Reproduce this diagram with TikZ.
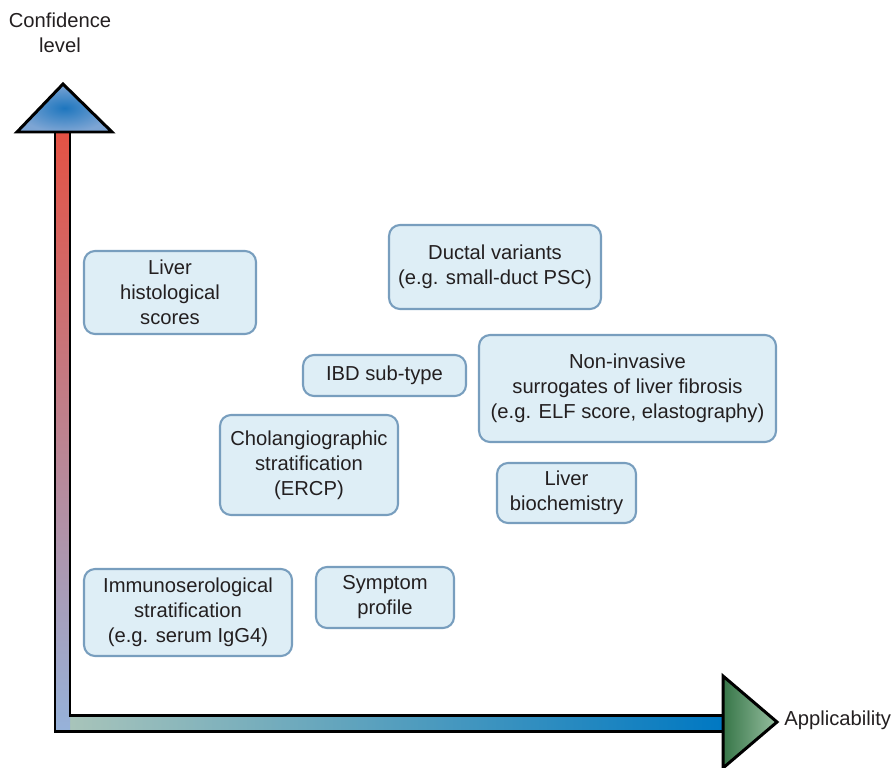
\documentclass[tikz,border=0pt]{standalone}
\usepackage{fontspec}
\setmainfont{Liberation Sans}
\usetikzlibrary{calc,positioning}
\definecolor{boxfill}{RGB}{222,238,246}
\definecolor{boxline}{RGB}{120,158,190}
\definecolor{axhigh}{RGB}{228,82,68}
\definecolor{axmid}{RGB}{182,138,160}
\definecolor{axlow}{RGB}{150,178,218}
\definecolor{axleft}{RGB}{168,196,186}
\definecolor{axright}{RGB}{0,120,194}
\definecolor{tipin}{RGB}{30,118,190}
\definecolor{tipout}{RGB}{125,165,212}
\definecolor{tipdark}{RGB}{55,118,72}
\definecolor{tiplight}{RGB}{150,190,160}
\definecolor{ink}{RGB}{35,31,32}

\begin{document}
\begin{tikzpicture}[x=0.02cm,y=-0.02cm,
  lbl/.style={text=ink,font=\fontsize{11.5}{14.2}\selectfont},
  box/.style={lbl,draw=boxline,fill=boxfill,line width=1.2pt,rounded corners=0.22cm,
    align=center,inner sep=2pt},
  axis/.style={line width=1.7pt,black}]
  \useasboundingbox (0,0) rectangle (895,767);
  \coordinate(O) at (55,731);
  \coordinate(Ytop) at (55,132);
  \coordinate(Xend) at (723,731);
  % axes
  \shade[left color=axleft,right color=axright](70,715) rectangle (Xend);
  \shade[top color=axhigh,middle color=axmid,bottom color=axlow](Ytop) rectangle (70,731);
  \draw[axis](Ytop)--(O)--(Xend);
  \draw[axis](70,132)--(70,715)--(723,715);
  \shadedraw[axis,line join=miter,inner color=tipin,outer color=tipout]
    (17,132)--(63,84)--(112,132)--cycle;
  \shadedraw[axis,line join=miter,left color=tipdark,right color=tiplight]
    (723,676)--(777,722)--(723,768)--cycle;
  \node[lbl,align=center](ylab) at (60,33){Confidence\\level};
  \node[lbl,anchor=west,inner sep=0pt](xlab) at (784,720){Applicability};
  % boxes
  \node[box,minimum width=3.44cm,minimum height=1.66cm](histo) at (170,292.5){Liver\\histological\\scores};
  \node[box,minimum width=4.24cm,minimum height=1.68cm](ductal) at (495,267){Ductal variants\\(e.g. small-duct PSC)};
  \node[box,minimum width=3.26cm,minimum height=0.82cm](ibd) at (384.5,375.5){IBD sub-type};
  \node[box,minimum width=5.94cm,minimum height=2.14cm](noninv) at (627.5,388.5){Non-invasive\\surrogates of liver fibrosis\\(e.g. ELF score, elastography)};
  \node[box,minimum width=3.56cm,minimum height=2.0cm](cholang) at (309,465){Cholangiographic\\stratification\\(ERCP)};
  \node[box,minimum width=2.78cm,minimum height=1.2cm](biochem) at (566.5,493){Liver\\biochemistry};
  \node[box,minimum width=2.76cm,minimum height=1.22cm](symptom) at (385,597.5){Symptom\\profile};
  \node[box,minimum width=4.16cm,minimum height=1.74cm](immuno) at (188,612.5){Immunoserological\\stratification\\(e.g. serum IgG4)};
\end{tikzpicture}
\end{document}
